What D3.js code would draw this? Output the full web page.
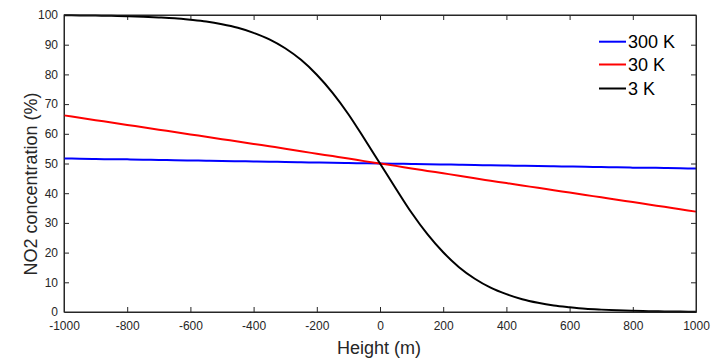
<!DOCTYPE html>
<html>
<head>
<meta charset="utf-8">
<script src="https://cdn.jsdelivr.net/npm/d3@7"></script>
<style>
  html, body { margin: 0; padding: 0; background: #fff; }
  svg { display: block; font-family: "Liberation Sans", Arial, Helvetica, sans-serif; }
</style>
</head>
<body>
<svg id="chart" width="720" height="363"></svg>
<script>
// ---- data ----
const heights = [-1000, -950, -900, -850, -800, -750, -700, -650, -600, -550, -500, -450, -400, -350, -300, -250, -200, -150, -100, -50,
  0, 50, 100, 150, 200, 250, 300, 350, 400, 450, 500, 550, 600, 650, 700, 750, 800, 850, 900, 950, 1000];
const conc300K = [51.7, 51.6, 51.5, 51.45, 51.4, 51.3, 51.2, 51.1, 51.0, 50.95, 50.85, 50.75, 50.7, 50.6, 50.5, 50.4, 50.35, 50.25, 50.15, 50.1,
  50.0, 49.9, 49.85, 49.75, 49.65, 49.6, 49.5, 49.4, 49.3, 49.25, 49.15, 49.05, 49.0, 48.9, 48.8, 48.7, 48.6, 48.55, 48.5, 48.4, 48.3];
const conc30K = [66.2, 65.4, 64.6, 63.8, 63.0, 62.2, 61.4, 60.6, 59.8, 59.0, 58.2, 57.4, 56.6, 55.8, 55.0, 54.1, 53.3, 52.5, 51.7, 50.8,
  50.0, 49.2, 48.3, 47.5, 46.7, 45.9, 45.0, 44.2, 43.4, 42.6, 41.8, 41.0, 40.2, 39.4, 38.6, 37.8, 37.0, 36.2, 35.4, 34.6, 33.8];
const conc3K = [99.9, 99.86, 99.8, 99.71, 99.6, 99.43, 99.2, 98.9, 98.4, 97.8, 96.9, 95.7, 94.0, 91.8, 88.8, 84.9, 79.9, 73.8, 66.6, 58.4,
  50.0, 41.6, 33.4, 26.2, 20.1, 15.1, 11.2, 8.2, 6.0, 4.3, 3.1, 2.2, 1.6, 1.1, 0.8, 0.57, 0.4, 0.29, 0.2, 0.14, 0.1];
const seriesNames = ["300 K", "30 K", "3 K"];
const seriesColors = ["#0000ff", "#ff0000", "#000000"];
const xTicks = [-1000, -800, -600, -400, -200, 0, 200, 400, 600, 800, 1000];
const yTicks = [0, 10, 20, 30, 40, 50, 60, 70, 80, 90, 100];
const xLabel = "Height (m)";
const yLabel = "NO2 concentration (%)";

// ---- layout ----
const svg = d3.select("#chart");
const mLeft = 64, mRight = 696, mTop = 15, mBottom = 312;
const axisColor = "#262626";

const x = d3.scaleLinear().domain([-1000, 1000]).range([mLeft, mRight]);
const y = d3.scaleLinear().domain([0, 100]).range([mBottom, mTop]);

const tickLen = 5;
const fmt = d => String(d);   // plain hyphen-minus like the reference

const gx = svg.append("g").attr("transform", `translate(0,${mBottom})`)
  .call(d3.axisBottom(x).tickValues(xTicks).tickSizeInner(-tickLen).tickSizeOuter(0).tickPadding(9).tickFormat(fmt));
const gxt = svg.append("g").attr("transform", `translate(0,${mTop})`)
  .call(d3.axisTop(x).tickValues(xTicks).tickSizeInner(-tickLen).tickSizeOuter(0).tickFormat(""));
const gy = svg.append("g").attr("transform", `translate(${mLeft},0)`)
  .call(d3.axisLeft(y).tickValues(yTicks).tickSizeInner(-tickLen).tickSizeOuter(0).tickPadding(6).tickFormat(fmt));
const gyr = svg.append("g").attr("transform", `translate(${mRight},0)`)
  .call(d3.axisRight(y).tickValues(yTicks).tickSizeInner(-tickLen).tickSizeOuter(0).tickFormat(""));

[gx, gxt, gy, gyr].forEach(g => {
  g.select(".domain").attr("stroke", axisColor).attr("stroke-width", 1);
  g.selectAll(".tick line").attr("stroke", axisColor).attr("stroke-width", 1);
  g.selectAll(".tick text").attr("fill", axisColor).style("font-size", "12px")
    .style("font-family", '"Liberation Sans", Arial, Helvetica, sans-serif');
});
gxt.selectAll(".tick").filter(d => d === -1000 || d === 1000).select("line").remove();
gx.selectAll(".tick").filter(d => d === -1000 || d === 1000).select("line").remove();
gy.selectAll(".tick").filter(d => d === 0 || d === 100).select("line").remove();
gyr.selectAll(".tick").filter(d => d === 0 || d === 100).select("line").remove();

// lines
const seriesData = [conc300K, conc30K, conc3K];
const line = d3.line()
  .x((d, i) => x(heights[i]))
  .y(d => y(d))
  .curve(d3.curveMonotoneX);

const plot = svg.append("g");
seriesData.forEach((vals, k) => {
  plot.append("path")
    .datum(vals)
    .attr("fill", "none")
    .attr("stroke", seriesColors[k])
    .attr("stroke-width", 2)
    .attr("d", line);
});

svg.append("rect").attr("x", mLeft).attr("y", mTop)
  .attr("width", mRight - mLeft).attr("height", mBottom - mTop)
  .attr("fill", "none").attr("stroke", axisColor).attr("stroke-width", 1);

// axis labels
svg.append("text")
  .attr("x", (mLeft + mRight) / 2 - 1).attr("y", 354)
  .attr("text-anchor", "middle").attr("fill", axisColor)
  .style("font-size", "18px")
  .text(xLabel);

svg.append("text")
  .attr("transform", `translate(37,184) rotate(-90)`)
  .attr("text-anchor", "middle").attr("fill", axisColor)
  .style("font-size", "18px")
  .text(yLabel);

// legend
const legendRows = [41.7, 64.5, 88.5];
seriesNames.forEach((name, k) => {
  const ly = legendRows[k];
  svg.append("line").attr("x1", 599).attr("x2", 626).attr("y1", ly).attr("y2", ly)
    .attr("stroke", seriesColors[k]).attr("stroke-width", 2);
  svg.append("text").attr("x", 628).attr("y", ly + 6.5)
    .attr("fill", "#000").style("font-size", "18px").text(name);
});
</script>
</body>
</html>
